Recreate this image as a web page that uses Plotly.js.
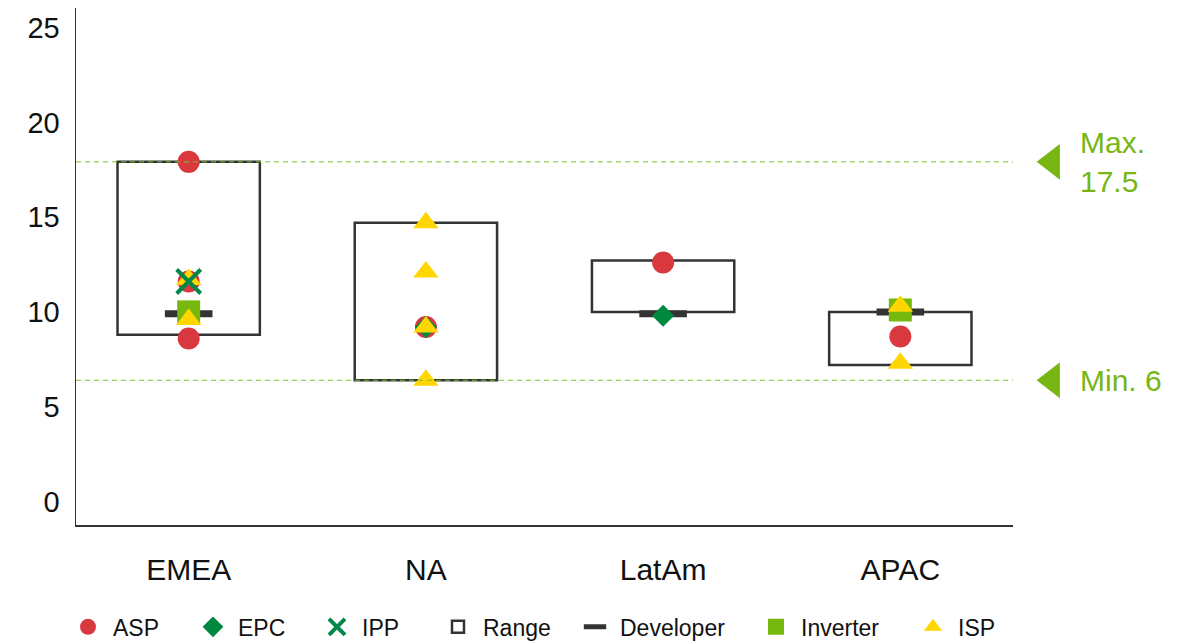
<!DOCTYPE html>
<html>
<head>
<meta charset="utf-8">
<script src="https://cdn.plot.ly/plotly-3.0.1.min.js"></script>
<style>
  html, body { margin: 0; padding: 0; background: #fff; }
  #chart { width: 1204px; height: 643px; }
</style>
</head>
<body>
<div id="chart"></div>
<script>
// Regions on the horizontal axis
const regions = ['EMEA', 'NA', 'LatAm', 'APAC'];

// Low / high end of the range box per region
const rangeLow = [8.4, 6.0, 9.6, 6.8];
const rangeHigh = [17.5, 14.3, 12.3, 9.6];

// Individual estimates per stakeholder group (region, value)
const aspRegion = ['EMEA', 'EMEA', 'EMEA', 'NA', 'LatAm', 'APAC'];
const aspValue = [17.5, 11.2, 8.2, 8.8, 12.2, 8.3];

const epcRegion = ['NA', 'LatAm'];
const epcValue = [8.8, 9.4];

const ippRegion = ['EMEA'];
const ippValue = [11.2];

const developerRegion = ['EMEA', 'LatAm', 'APAC'];
const developerValue = [9.5, 9.5, 9.6];

const inverterRegion = ['EMEA', 'APAC'];
const inverterValue = [9.6, 9.7];

const ispRegion = ['EMEA', 'EMEA', 'NA', 'NA', 'NA', 'NA', 'APAC', 'APAC'];
const ispValue = [11.3, 9.2, 14.3, 11.7, 8.8, 6.0, 9.9, 6.9];

// Overall maximum / minimum reference lines
const thresholdValues = [17.5, 6];
const thresholdLabels = ['Max.<br>17.5', 'Min. 6'];

// Y axis ticks
const yTicks = [0, 5, 10, 15, 20, 25];

// ---- geometry -------------------------------------------------------
const W = 1204, H = 643;
const M = { l: 76, r: 4, t: 8, b: 118 };
const paperW = W - M.l - M.r;
const plotW = 937;                       // width of the main plotting area
const xRange = [-0.475, 3.475];
const unitPx = plotW / (xRange[1] - xRange[0]);
const x2Range = [xRange[0], xRange[0] + paperW / unitPx];

const FONT = 'Liberation Sans, Arial, Helvetica, sans-serif';
const LIME = '#78B614';
const idx = list => list.map(r => regions.indexOf(r));

// legend entry order and horizontal position (symbol centre, px)
const legendOrder = ['ASP', 'EPC', 'IPP', 'Range', 'Developer', 'Inverter', 'ISP'];
const legendPx = [88, 213, 337, 458, 595, 776, 933];
const legendId = name => {
  const i = legendOrder.indexOf(name);
  return i === 0 ? 'legend' : 'legend' + (i + 1);
};

const rangeTrace = {
  type: 'bar',
  name: 'Range',
  x: regions.map((r, i) => i),
  base: rangeLow,
  y: rangeHigh.map((h, i) => h - rangeLow[i]),
  width: 0.6,
  marker: { color: 'rgba(255,255,255,0)', line: { color: '#333333', width: 2.5 } },
  legend: legendId('Range'),
  hoverinfo: 'skip'
};

function markerTrace(name, regionList, values, marker) {
  return {
    type: 'scatter',
    mode: 'markers',
    name: name,
    x: idx(regionList),
    y: values,
    marker: marker,
    legend: legendId(name),
    cliponaxis: false
  };
}

const developerTrace = markerTrace('Developer', developerRegion, developerValue,
  { symbol: 'line-ew', size: 34, color: '#333333', line: { color: '#333333', width: 7 } });
const aspTrace = markerTrace('ASP', aspRegion, aspValue,
  { symbol: 'circle', size: 22, color: '#D9383F', line: { width: 0 } });
const epcTrace = markerTrace('EPC', epcRegion, epcValue,
  { symbol: 'diamond', size: 17, color: '#00883F', line: { width: 0 } });
const inverterTrace = markerTrace('Inverter', inverterRegion, inverterValue,
  { symbol: 'square', size: 23, color: '#77B80F', line: { width: 0 } });
const ispTrace = markerTrace('ISP', ispRegion, ispValue,
  { symbol: 'triangle-up', size: 22, color: '#FFD600', line: { width: 0 } });
const ippTrace = markerTrace('IPP', ippRegion, ippValue,
  { symbol: 'x-thin', size: 24, color: '#00884A', line: { color: '#00884A', width: 4 } });

// Arrow heads pointing at the reference lines, right of the plotting area
const thresholdTrace = {
  type: 'scatter',
  mode: 'markers',
  xaxis: 'x2',
  yaxis: 'y',
  x: thresholdValues.map(() => 3.64),
  y: thresholdValues,
  marker: { symbol: 'triangle-left', size: 31, color: LIME, line: { width: 0 } },
  showlegend: false,
  hoverinfo: 'skip'
};

const legendBase = {
  orientation: 'h',
  xanchor: 'left',
  y: -0.197, yanchor: 'middle',
  font: { size: 23, family: FONT, color: '#111111' },
  itemsizing: 'trace',
  itemwidth: 40,
  bgcolor: 'rgba(0,0,0,0)',
  borderwidth: 0
};

const layout = {
  width: W,
  height: H,
  margin: Object.assign({ autoexpand: false }, M),
  paper_bgcolor: '#ffffff',
  plot_bgcolor: 'rgba(0,0,0,0)',
  font: { family: FONT, color: '#111111' },
  showlegend: true,
  barmode: 'overlay',
  xaxis: {
    domain: [0, plotW / paperW],
    range: xRange,
    tickvals: regions.map((r, i) => i),
    ticktext: regions,
    showgrid: false,
    zeroline: false,
    showline: true,
    linecolor: '#333333',
    linewidth: 1.5,
    ticks: '',
    ticklabelstandoff: 17,
    tickfont: { size: 30, family: FONT, color: '#111111' },
    fixedrange: true
  },
  xaxis2: {
    domain: [0, 1],
    range: x2Range,
    anchor: 'y',
    visible: false,
    fixedrange: true
  },
  yaxis: {
    range: [-1.62, 25.6],
    tickvals: yTicks,
    showgrid: false,
    zeroline: false,
    showline: true,
    linecolor: '#333333',
    linewidth: 1.5,
    ticks: '',
    ticklabelstandoff: 9,
    ticklabelshift: 8,
    tickfont: { size: 29, family: FONT, color: '#111111' },
    fixedrange: true
  },
  shapes: thresholdValues.map(v => ({
    type: 'line',
    xref: 'x domain', x0: 0, x1: 1,
    yref: 'y', y0: v, y1: v,
    line: { color: '#82BE2A', width: 1, dash: '5px,4px' },
    layer: 'above'
  })),
  annotations: thresholdValues.map((v, i) => ({
    x: 3.75, y: v, xref: 'x2', yref: 'y',
    text: thresholdLabels[i],
    showarrow: false,
    xanchor: 'left', yanchor: 'middle', align: 'left',
    font: { size: 30, family: FONT, color: LIME }
  }))
};

legendOrder.forEach((name, i) => {
  layout[legendId(name)] = Object.assign({}, legendBase, {
    x: (legendPx[i] - 25 - M.l) / paperW
  });
});

Plotly.newPlot('chart',
  [rangeTrace, developerTrace, aspTrace, epcTrace, inverterTrace, ispTrace, ippTrace, thresholdTrace],
  layout, { displayModeBar: false, staticPlot: true });
</script>
</body>
</html>
